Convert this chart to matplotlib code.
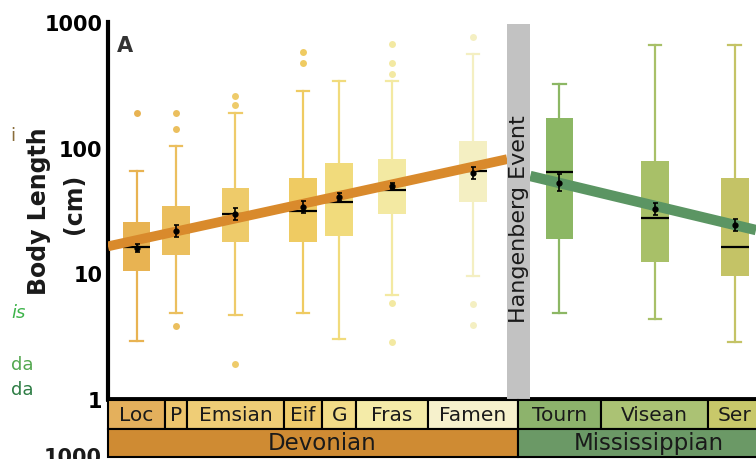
import matplotlib
matplotlib.use("Agg")
import matplotlib.pyplot as plt
import matplotlib.transforms as mtransforms
from matplotlib.ticker import NullLocator

# geologic stages (Ma), oldest -> youngest
stage_names = ["Loc", "P", "Emsian", "Eif", "G", "Fras", "Famen", "Tourn", "Visean", "Ser"]
stage_bounds = [419.2, 410.8, 407.6, 393.3, 387.7, 382.7, 372.2, 358.9, 346.7, 330.9, 323.2]
period_names = ["Devonian", "Mississippian"]
period_bounds = [419.2, 358.9, 323.2]

# body length (cm) box statistics per stage
whislo = [2.87, 4.85, 4.7, 4.81, 3.0, 6.76, 9.46, 4.81, 4.34, 2.86]
q1 = [10.4, 14.1, 17.8, 17.8, 19.9, 29.5, 37.2, 18.7, 12.3, 9.46]
med = [16.2, 21.5, 29.8, 31.3, 37.2, 46.1, 65.5, 64.0, 27.4, 16.2]
q3 = [25.7, 34.4, 48.1, 57.2, 75.4, 81.2, 112, 173, 78.7, 57.2]
whishi = [65.8, 104, 190, 282, 339, 339, 555, 323, 659, 659]
fliers = [[190], [190, 141, 3.84], [257, 218, 1.91], [572, 476], [],
          [667, 476, 384, 5.78, 2.82], [755, 5.72, 3.91], [], [], []]
means = [15.8, 21.8, 29.5, 33.9, 40.8, 49.5, 63.4, 52.8, 32.3, 24.2]
mean_lo = [14.7, 19.5, 26.4, 30.4, 37.9, 46.8, 56.8, 45.6, 28.9, 21.7]
mean_hi = [17.0, 24.4, 33.0, 37.9, 43.9, 52.3, 70.8, 61.2, 36.1, 27.0]

# trend lines before / after the event
trend_dev_x = [419.2, 360.5]
trend_dev_y = [16.4, 81.0]
trend_mis_x = [357.1, 323.9]
trend_mis_y = [59.5, 22.1]
hangenberg = (360.5, 357.1)

box_colors = ['#e8b352', '#ebbf5e', '#eecb6a', '#efcb62', '#f1db7c', '#f3e9a2',
              '#f4efc2', '#8cb764', '#a8c068', '#c4c366']
stage_colors = ['#e4b05c', '#ecc46c', '#efcd76', '#efcb6c', '#f2dc88', '#f4eba8',
                '#f6f1cc', '#8db36c', '#abc274', '#c8c86a']
period_colors = ['#cf8b33', '#6b9966']

W, H = 756, 460
XLIM = (419.2, 323.9)


def px_box(l, t, r, b):
    return [l / W, 1 - b / H, (r - l) / W, (b - t) / H]


fig = plt.figure(figsize=(W / 100, H / 100), dpi=100)
ax = fig.add_axes(px_box(108, 23, 756, 400))
strip = fig.add_axes(px_box(108, 401, 756, 458))

mids = [(a + b) / 2 for a, b in zip(stage_bounds[:-1], stage_bounds[1:])]
durs = [a - b for a, b in zip(stage_bounds[:-1], stage_bounds[1:])]

for i in range(len(stage_names)):
    c = box_colors[i]
    st = dict(med=med[i], q1=q1[i], q3=q3[i], whislo=whislo[i], whishi=whishi[i],
              fliers=fliers[i], mean=means[i], label=stage_names[i])
    ax.bxp([st], positions=[mids[i]], widths=4.1, capwidths=1.8, patch_artist=True,
           showfliers=True, showmeans=False, manage_ticks=False, zorder=2,
           boxprops=dict(facecolor=c, edgecolor=c, linewidth=0),
           whiskerprops=dict(color=c, lw=1.6), capprops=dict(color=c, lw=1.6),
           medianprops=dict(color='black', lw=1.6),
           flierprops=dict(marker='o', markerfacecolor=c, markeredgecolor='none', markersize=5))

ax.plot(trend_dev_x, trend_dev_y, color='#d98a2c', lw=7, solid_capstyle='butt', zorder=4)
ax.plot(trend_mis_x, trend_mis_y, color='#5b9563', lw=7.5, solid_capstyle='butt', zorder=4)

yerr = [[m - lo for m, lo in zip(means, mean_lo)], [hi - m for m, hi in zip(means, mean_hi)]]
ax.errorbar(mids, means, yerr=yerr, fmt='o', color='black', ms=3.5, capsize=1.8,
            elinewidth=1.2, capthick=1.2, zorder=5)

ax.axvspan(hangenberg[0], hangenberg[1], ymin=0, ymax=0.995, color='#c2c2c2', lw=0, zorder=6)
trans = mtransforms.blended_transform_factory(ax.transData, ax.transAxes)
ax.text(sum(hangenberg) / 2, 0.48, "Hangenberg Event", transform=trans, rotation=90,
        ha='center', va='center', fontsize=16, color='#1a1a1a', zorder=7)

ax.text(0.014, 0.965, "A", transform=ax.transAxes, ha='left', va='top',
        fontsize=15, fontweight='bold', color='#333333')

ax.set_yscale('log')
ax.set_ylim(1, 1000)
ax.set_xlim(*XLIM)
ax.yaxis.set_minor_locator(NullLocator())
ax.set_yticks([1, 10, 100, 1000])
ax.set_yticklabels(['1', '10', '100', '1000'], fontsize=15, fontweight='bold')
ax.tick_params(axis='y', length=0, pad=4)
ax.set_xticks([])
for s in ['top', 'right']:
    ax.spines[s].set_visible(False)
ax.spines['left'].set_linewidth(3)
ax.spines['bottom'].set_linewidth(3.5)

# timescale strip
strip.set_xlim(*XLIM)
strip.set_ylim(0, 2)
strip.axis('off')
strip.bar(mids, 1, width=durs, bottom=1, color=stage_colors, edgecolor='black',
          linewidth=1.5, clip_on=False)
pmids = [(a + b) / 2 for a, b in zip(period_bounds[:-1], period_bounds[1:])]
pdurs = [a - b for a, b in zip(period_bounds[:-1], period_bounds[1:])]
strip.bar(pmids, 1, width=pdurs, bottom=0, color=period_colors, edgecolor='black',
          linewidth=1.5, clip_on=False)
for x, name in zip(mids, stage_names):
    strip.text(x, 1.5, name, ha='center', va='center', fontsize=14.5, color='#1a1a1a', clip_on=False)
for x, name in zip(pmids, period_names):
    strip.text(x - 1.4, 0.5, name, ha='center', va='center', fontsize=16.5, color='#1a1a1a',
               clip_on=False)

# axis title, two separate lines
fig.text(39 / W, 1 - 211 / H, "Body Length", rotation=90, ha='center', va='center',
         fontsize=17, fontweight='bold', color='#1a1a1a')
fig.text(74 / W, 1 - 204 / H, "(cm)", rotation=90, ha='center', va='center',
         fontsize=17, fontweight='bold', color='#1a1a1a')

# fragments of the neighbouring legend and panel, cut by the image edge
fig.text(10 / W, 1 - 136 / H, "i", ha='left', va='center', fontsize=13, color='#8a6d3b')
fig.text(11 / W, 1 - 313 / H, "is", ha='left', va='center', fontsize=13, style='italic', color='#3db34a')
fig.text(11 / W, 1 - 365 / H, "da", ha='left', va='center', fontsize=13, color='#54a850')
fig.text(11 / W, 1 - 390 / H, "da", ha='left', va='center', fontsize=13, color='#2e7d45')
fig.text(102 / W, 1 - 448 / H, "1000", ha='right', va='top', fontsize=15, fontweight='bold',
         color='#1a1a1a')

fig.savefig("out.png", dpi=100)
